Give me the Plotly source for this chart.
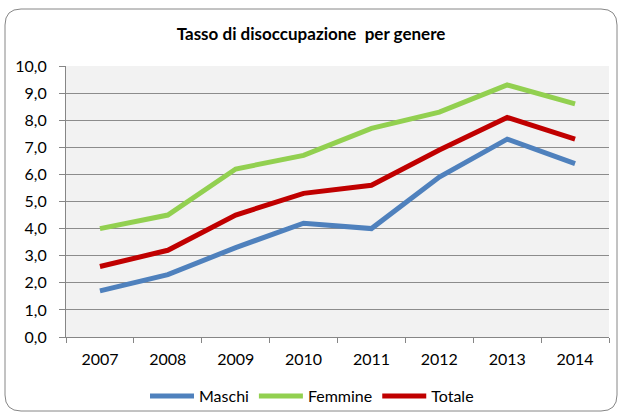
import plotly.graph_objects as go

years = ["2007", "2008", "2009", "2010", "2011", "2012", "2013", "2014"]
maschi = [1.7, 2.3, 3.3, 4.2, 4.0, 5.9, 7.3, 6.4]
femmine = [4.0, 4.5, 6.2, 6.7, 7.7, 8.3, 9.3, 8.6]
totale = [2.6, 3.2, 4.5, 5.3, 5.6, 6.9, 8.1, 7.3]
y_ticks = [0, 1, 2, 3, 4, 5, 6, 7, 8, 9, 10]

W, H = 622, 417
ml, mr, mt, mb = 66, 13, 66, 80
pw, ph = W - ml - mr, H - mt - mb

def px(x):
    return (x - ml) / pw

def py(y):
    return (H - mb - y) / ph

fig = go.Figure()
for name, vals, col in [("Maschi", maschi, "#4F81BD"),
                        ("Femmine", femmine, "#92D050"),
                        ("Totale", totale, "#C00000")]:
    fig.add_trace(go.Scatter(x=years, y=vals, name=name, mode="lines",
                             line=dict(color=col, width=5)))

# rounded outer border
x0, x1, y0, y1, r = 5, 617, 9, 411, 16
path = (f"M {px(x0 + r)},{py(y0)} L {px(x1 - r)},{py(y0)} "
        f"Q {px(x1)},{py(y0)} {px(x1)},{py(y0 + r)} "
        f"L {px(x1)},{py(y1 - r)} Q {px(x1)},{py(y1)} {px(x1 - r)},{py(y1)} "
        f"L {px(x0 + r)},{py(y1)} Q {px(x0)},{py(y1)} {px(x0)},{py(y1 - r)} "
        f"L {px(x0)},{py(y0 + r)} Q {px(x0)},{py(y0)} {px(x0 + r)},{py(y0)} Z")

fig.update_layout(
    width=W, height=H,
    margin=dict(l=ml, r=mr, t=mt, b=mb, autoexpand=False),
    paper_bgcolor="white",
    plot_bgcolor="#F2F2F2",
    separators=",.",
    font=dict(family="Lato, Noto Sans, sans-serif", size=16, color="#000000"),
    title=dict(text="<b>Tasso di disoccupazione  per genere</b>",
               x=0.5, xanchor="center", y=1 - 34 / H, yanchor="middle",
               font=dict(size=17)),
    xaxis=dict(type="category", tickson="boundaries", ticks="outside",
               range=[-0.5, 7.5], automargin=False,
               ticklen=5, tickcolor="#868686", showline=True,
               linecolor="#868686", linewidth=1, showgrid=False,
               ticklabelstandoff=8,
               tickfont=dict(size=16), fixedrange=True),
    yaxis=dict(range=[0, 10], tickvals=y_ticks, tickformat=".1f",
               automargin=False,
               ticks="outside", ticklen=6, tickcolor="#868686",
               showline=True, linecolor="#868686", linewidth=1,
               showgrid=True, gridcolor="#8C8C8C", gridwidth=1,
               ticklabelstandoff=9,
               zeroline=False, tickfont=dict(size=16), fixedrange=True),
    legend=dict(orientation="h", x=px(312), xanchor="center",
                y=py(396), yanchor="middle", font=dict(size=16),
                itemwidth=44, tracegroupgap=0, bgcolor="rgba(0,0,0,0)"),
    shapes=[dict(type="path", path=path, xref="paper", yref="paper",
                 line=dict(color="#868686", width=1), layer="below")],
)

fig.write_html("out.html",
               config={"displayModeBar": False},
               post_script="document.body.style.margin='0';"
                           "document.body.style.padding='0';")
